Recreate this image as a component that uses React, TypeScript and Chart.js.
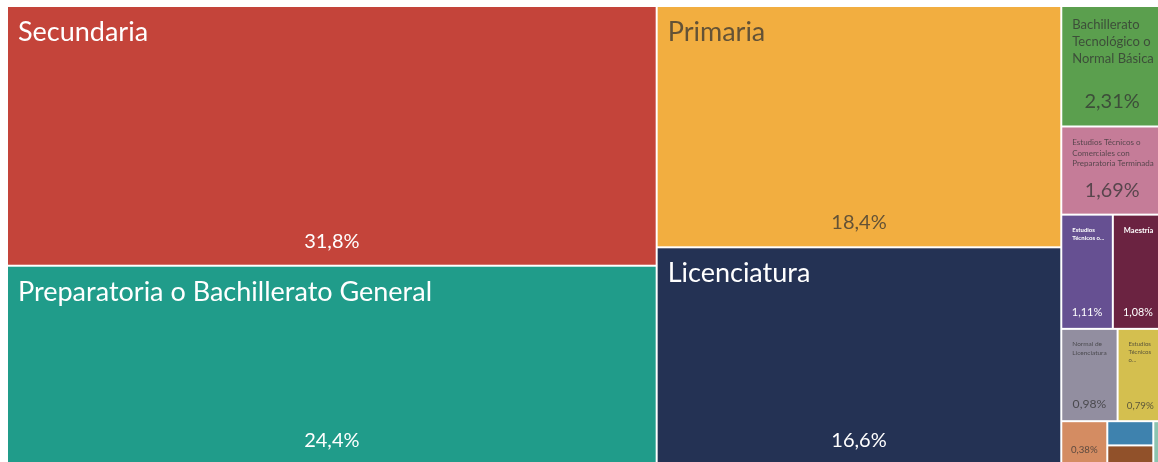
import React, { useEffect, useRef } from "react";
import { Chart, registerables } from "chart.js";

Chart.register(...registerables);

// ---- data ----
const categories: string[] = [
  "Secundaria",
  "Preparatoria o Bachillerato General",
  "Primaria",
  "Licenciatura",
  "Bachillerato Tecnológico o Normal Básica",
  "Estudios Técnicos o Comerciales con Preparatoria Terminada",
  "Estudios Técnicos o Comerciales con Secundaria Terminada",
  "Maestría",
  "Normal de Licenciatura",
  "Estudios Técnicos o Comerciales con Primaria Terminada",
  "Doctorado",
  "Preescolar",
  "Ninguno",
  "No especificado",
];
const values: number[] = [31.8, 24.4, 18.4, 16.6, 2.31, 1.69, 1.11, 1.08, 0.98, 0.79, 0.38, 0.21, 0.17, 0.08];
const colors: string[] = [
  "#C4443A",
  "#209C8A",
  "#F2AE40",
  "#243254",
  "#5B9F4E",
  "#C57C98",
  "#665092",
  "#6B2341",
  "#928EA0",
  "#D4BF4F",
  "#D48C62",
  "#3E82AE",
  "#91512A",
  "#8CC4B0",
];

// ---- layout constants ----
const X_EXTENT = 1156;
const Y_EXTENT = 459;
const GOLDEN = (1 + Math.sqrt(5)) / 2;
const FONT_FAMILY = "Lato, 'Open Sans', sans-serif";

type Node = { i: number; v: number };
type Cell = { i: number; x0: number; y0: number; x1: number; y1: number };

function squarify(nodes: Node[], x0: number, y0: number, x1: number, y1: number, ratio: number): Cell[] {
  const out: Cell[] = [];
  let value = nodes.reduce((s, n) => s + n.v, 0);
  const n = nodes.length;
  let i0 = 0;
  while (i0 < n) {
    const dx = x1 - x0;
    const dy = y1 - y0;
    let sumValue = nodes[i0].v;
    let minV = sumValue;
    let maxV = sumValue;
    const alpha = Math.max(dy / dx, dx / dy) / (value * ratio);
    let beta = sumValue * sumValue * alpha;
    let minRatio = Math.max(maxV / beta, beta / minV);
    let i1 = i0 + 1;
    for (; i1 < n; i1++) {
      const nv = nodes[i1].v;
      sumValue += nv;
      if (nv < minV) minV = nv;
      if (nv > maxV) maxV = nv;
      beta = sumValue * sumValue * alpha;
      const newRatio = Math.max(maxV / beta, beta / minV);
      if (newRatio > minRatio) {
        sumValue -= nv;
        break;
      }
      minRatio = newRatio;
    }
    const row = nodes.slice(i0, i1);
    if (dx < dy) {
      const yy = i1 < n ? y0 + (dy * sumValue) / value : y1;
      let x = x0;
      row.forEach((nd, k) => {
        const nx = k === row.length - 1 ? x1 : x + ((x1 - x0) * nd.v) / sumValue;
        out.push({ i: nd.i, x0: x, x1: nx, y0, y1: yy });
        x = nx;
      });
      y0 = yy;
    } else {
      const xx = i1 < n ? x0 + (dx * sumValue) / value : x1;
      let y = y0;
      row.forEach((nd, k) => {
        const ny = k === row.length - 1 ? y1 : y + ((y1 - y0) * nd.v) / sumValue;
        out.push({ i: nd.i, x0, x1: xx, y0: y, y1: ny });
        y = ny;
      });
      x0 = xx;
    }
    value -= sumValue;
    i0 = i1;
  }
  return out;
}

function fmt(v: number): string {
  const s = v >= 10 ? v.toFixed(1) : v.toFixed(2);
  return s.replace(".", ",") + "%";
}

function isLight(hex: string): boolean {
  const r = parseInt(hex.slice(1, 3), 16);
  const g = parseInt(hex.slice(3, 5), 16);
  const b = parseInt(hex.slice(5, 7), 16);
  return 0.2126 * r + 0.7152 * g + 0.0722 * b > 135;
}

function wrap(ctx: CanvasRenderingContext2D, text: string, maxW: number) {
  const words = text.split(" ");
  const lines: string[] = [];
  let cur = "";
  let overflow = false;
  for (const w of words) {
    const test = cur ? cur + " " + w : w;
    if (ctx.measureText(test).width <= maxW) {
      cur = test;
    } else {
      if (cur) lines.push(cur);
      cur = w;
      if (ctx.measureText(w).width > maxW) overflow = true;
    }
  }
  if (cur) lines.push(cur);
  return { lines, overflow };
}

function fitTitle(ctx: CanvasRenderingContext2D, text: string, maxW: number, maxH: number, weight: string) {
  const maxF = 27;
  const minF = 6;
  for (let f = maxF; f >= minF; f -= 0.5) {
    ctx.font = `${weight} ${f}px ${FONT_FAMILY}`;
    const { lines, overflow } = wrap(ctx, text, maxW);
    if (!overflow && lines.length * f * 1.3 <= maxH) return { f, lines };
  }
  // truncate at min size
  const f = minF;
  ctx.font = `${weight} ${f}px ${FONT_FAMILY}`;
  const maxLines = Math.max(1, Math.floor(maxH / (f * 1.3)));
  const words = text.split(" ");
  const lines: string[] = [];
  let cur = "";
  let truncated = false;
  for (const w of words) {
    const test = cur ? cur + " " + w : w;
    if (ctx.measureText(test).width <= maxW) {
      cur = test;
      continue;
    }
    if (ctx.measureText(w).width > maxW || lines.length + 1 >= maxLines) {
      truncated = true;
      break;
    }
    lines.push(cur);
    cur = w;
  }
  if (cur) lines.push(truncated ? cur + "..." : cur);
  return { f, lines };
}

const treemapPlugin = {
  id: "treemapCells",
  afterDatasetsDraw(chart: any) {
    const ctx: CanvasRenderingContext2D = chart.ctx;
    const xs = chart.scales.x;
    const ys = chart.scales.y;
    const nodes: Node[] = values.map((v, i) => ({ i, v })).sort((a, b) => b.v - a.v);
    const cells = squarify(nodes, 0, 0, X_EXTENT, Y_EXTENT, GOLDEN);
    ctx.save();
    cells.forEach((c) => {
      const px0 = xs.getPixelForValue(c.x0);
      const px1 = xs.getPixelForValue(c.x1);
      const py0 = ys.getPixelForValue(c.y0);
      const py1 = ys.getPixelForValue(c.y1);
      const x = Math.min(px0, px1) + 1;
      const y = Math.min(py0, py1) + 1;
      const w = Math.abs(px1 - px0) - 2;
      const h = Math.abs(py1 - py0) - 2;
      const bg = colors[c.i];
      ctx.fillStyle = bg;
      ctx.fillRect(x, y, w, h);

      const light = isLight(bg);
      const textColor = light ? "rgba(51,51,51,0.75)" : "#ffffff";
      ctx.save();
      ctx.beginPath();
      ctx.rect(x, y, w, h);
      ctx.clip();
      ctx.fillStyle = textColor;

      // title
      if (h >= 60 && w >= 30) {
        const padL = 10;
        const padR = 8;
        const weight = !light && w < 80 ? "bold" : "normal";
        const { f, lines } = fitTitle(ctx, categories[c.i], w - padL - padR, h * 0.5, weight);
        ctx.font = `${weight} ${f}px ${FONT_FAMILY}`;
        ctx.textAlign = "left";
        ctx.textBaseline = "alphabetic";
        lines.forEach((ln, k) => {
          ctx.fillText(ln, x + padL, y + 11 + f * 0.85 + k * f * 1.3);
        });
      }

      // value
      const label = fmt(values[c.i]);
      ctx.font = `20px ${FONT_FAMILY}`;
      const wAt20 = ctx.measureText(label).width;
      const vf = Math.min(20, (20 * 0.62 * w) / wAt20, 0.23 * h);
      if (vf >= 6) {
        ctx.font = `${vf}px ${FONT_FAMILY}`;
        ctx.textAlign = "center";
        ctx.textBaseline = "alphabetic";
        ctx.fillText(label, x + w / 2, y + h - (5 + 0.6 * vf));
      }
      ctx.restore();
    });
    ctx.restore();
  },
};

export default function App() {
  const canvasRef = useRef<HTMLCanvasElement | null>(null);

  useEffect(() => {
    if (!canvasRef.current) return;
    const chart = new Chart(canvasRef.current, {
      type: "scatter",
      data: { datasets: [{ label: "Nivel educativo", data: [], pointRadius: 0 }] },
      options: {
        animation: false,
        responsive: true,
        maintainAspectRatio: false,
        layout: { padding: { left: 7, top: 6, right: 0, bottom: 0 } },
        plugins: { legend: { display: false }, tooltip: { enabled: false } },
        scales: {
          x: { type: "linear", display: false, min: 0, max: X_EXTENT },
          y: { type: "linear", display: false, min: 0, max: Y_EXTENT, reverse: true },
        },
      },
      plugins: [treemapPlugin],
    });
    return () => chart.destroy();
  }, []);

  return (
    <div style={{ position: "absolute", left: 0, top: 0, width: 1158, height: 462, overflow: "hidden", background: "#fff" }}>
      <div style={{ position: "relative", width: 1163, height: 465 }}>
        <canvas ref={canvasRef} />
      </div>
    </div>
  );
}
